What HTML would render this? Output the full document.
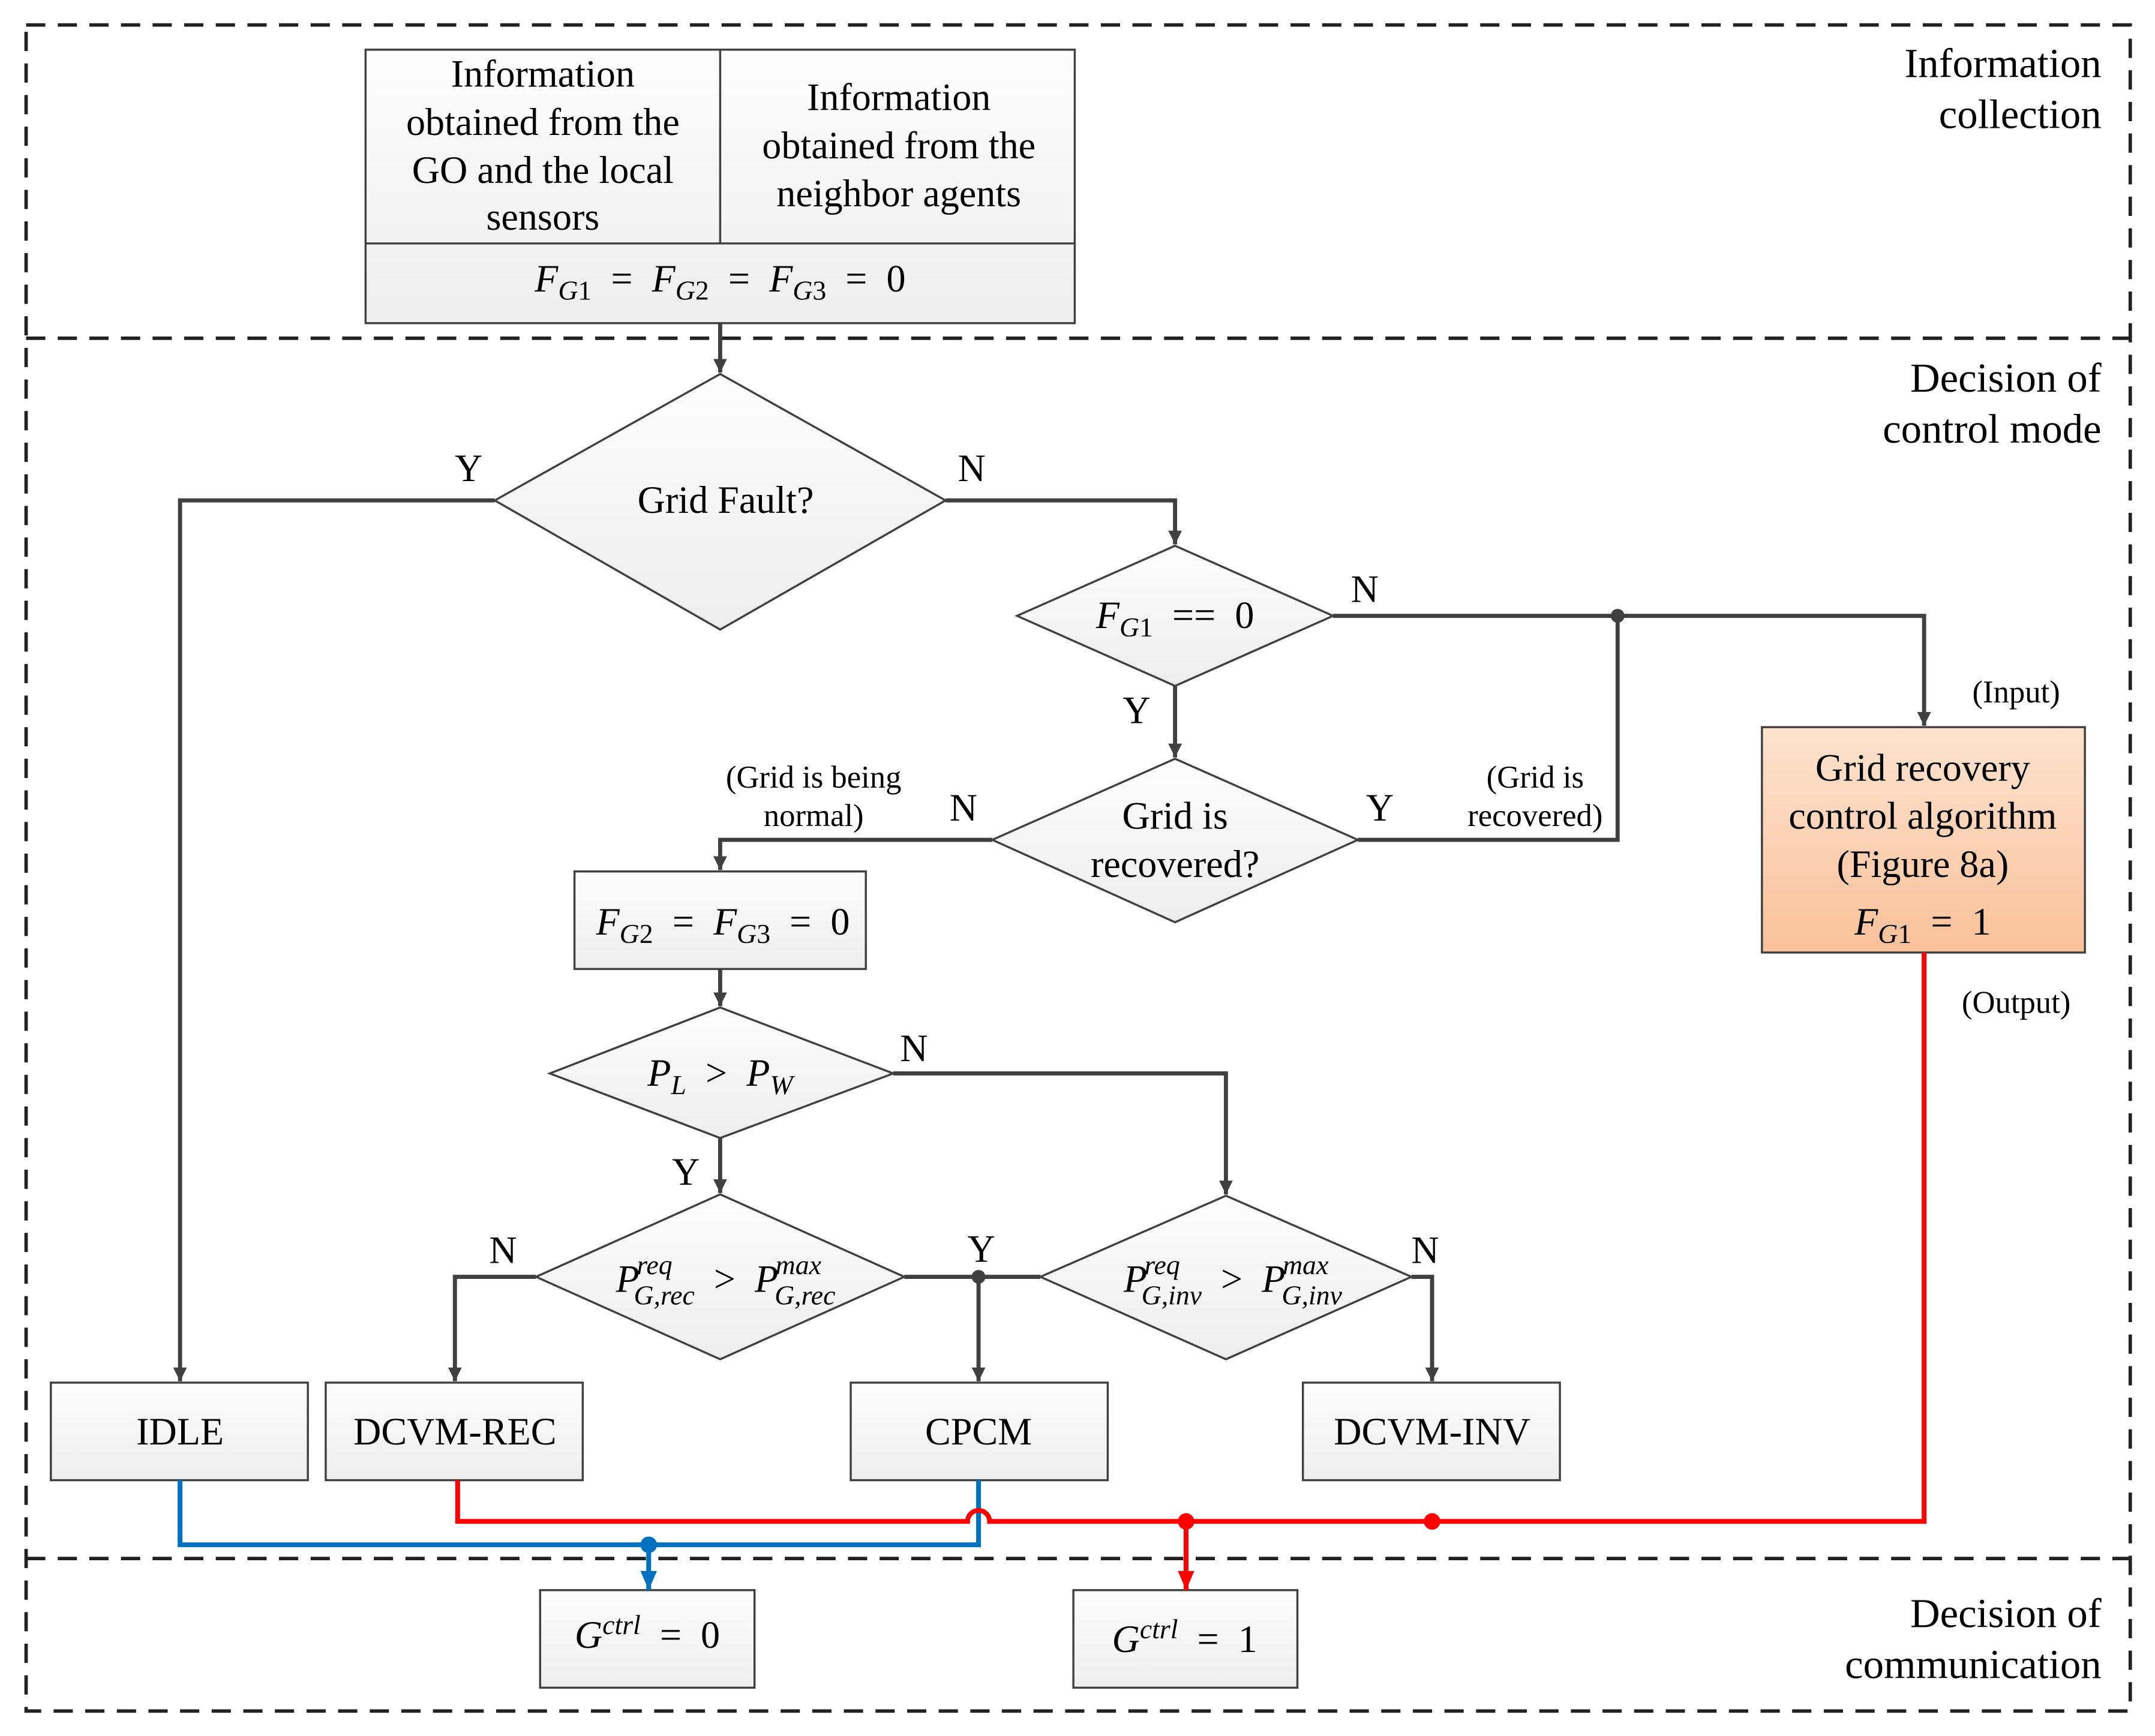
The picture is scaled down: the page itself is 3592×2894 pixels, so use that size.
<!DOCTYPE html>
<html><head><style>html,body{margin:0;padding:0;background:#fff}svg{display:block}
text{font-family:"Liberation Serif",serif;fill:#000}
.m{font-style:italic}
</style></head><body>
<svg width="3592" height="2894" viewBox="0 0 1568 1263" xmlns="http://www.w3.org/2000/svg">
<defs>
<linearGradient id="g" x1="0" y1="0" x2="0" y2="1"><stop offset="0" stop-color="#fdfdfd"/><stop offset="1" stop-color="#eeeeee"/></linearGradient>
<linearGradient id="o" x1="0" y1="0" x2="0" y2="1"><stop offset="0" stop-color="#fde3d0"/><stop offset="1" stop-color="#f9c19a"/></linearGradient>
<marker id="a" markerWidth="10" markerHeight="10" refX="10" refY="5" orient="auto" markerUnits="userSpaceOnUse" viewBox="0 0 10 10"><path d="M0,0 L10,5 L0,10z" fill="#404040"/></marker>
<marker id="ar" markerWidth="14" markerHeight="12" refX="14" refY="6" orient="auto" markerUnits="userSpaceOnUse" viewBox="0 0 14 12"><path d="M0,0 L14,6 L0,12z" fill="#f00"/></marker>
<marker id="ab" markerWidth="14" markerHeight="12" refX="14" refY="6" orient="auto" markerUnits="userSpaceOnUse" viewBox="0 0 14 12"><path d="M0,0 L14,6 L0,12z" fill="#0070c0"/></marker>
</defs>
<g fill="none" stroke="#222" stroke-width="2.5" stroke-dasharray="14,9">
<rect x="19" y="18" width="1531" height="1227"/>
<line x1="19" y1="246" x2="1550" y2="246"/>
<line x1="19" y1="1134" x2="1550" y2="1134"/>
</g>
<g font-size="30" text-anchor="end">
<text x="1529" y="56">Information</text><text x="1529" y="93">collection</text>
<text x="1529" y="285">Decision of</text><text x="1529" y="322">control mode</text>
<text x="1529" y="1184">Decision of</text><text x="1529" y="1221">communication</text>
</g>
<g stroke="#404040" stroke-width="1.5" fill="url(#g)">
<rect x="266" y="36" width="516" height="199"/>
<line x1="524" y1="36" x2="524" y2="177"/><line x1="266" y1="177" x2="782" y2="177"/>
<polygon points="524,272 688,364 524,458 360,364"/>
<polygon points="855,397 970,448 855,499 740,448"/>
<polygon points="855,552 988,611 855,671 722,611"/>
<rect x="418" y="634" width="212" height="71"/>
<polygon points="524,733 650,781 524,828 400,781"/>
<polygon points="524,869 658,929 524,989 390,929"/>
<polygon points="892,870 1027,929 892,989 757,929"/>
<rect x="37" y="1006" width="187" height="71"/>
<rect x="237" y="1006" width="187" height="71"/>
<rect x="619" y="1006" width="187" height="71"/>
<rect x="948" y="1006" width="187" height="71"/>
<rect x="393" y="1157" width="156" height="71"/>
<rect x="781" y="1157" width="163" height="71"/>
<rect x="1282" y="529" width="235" height="164" fill="url(#o)"/>
</g>
<g stroke="#404040" stroke-width="3" fill="none">
<path d="M524,235 V271" marker-end="url(#a)"/>
<path d="M360,364 H131 V1005" marker-end="url(#a)"/>
<path d="M688,364 H855 V396" marker-end="url(#a)"/>
<path d="M970,448 H1400 V528" marker-end="url(#a)"/>
<path d="M855,499 V551" marker-end="url(#a)"/>
<path d="M988,611 H1177 V448"/>
<path d="M722,611 H524 V633" marker-end="url(#a)"/>
<path d="M524,705 V732" marker-end="url(#a)"/>
<path d="M650,781 H892 V869" marker-end="url(#a)"/>
<path d="M524,828 V868" marker-end="url(#a)"/>
<path d="M390,929 H331 V1005" marker-end="url(#a)"/>
<path d="M658,929 H757"/>
<path d="M712,929 V1005" marker-end="url(#a)"/>
<path d="M1027,929 H1042 V1005" marker-end="url(#a)"/>
</g>
<circle cx="1177" cy="448" r="5" fill="#404040"/>
<circle cx="712" cy="929" r="5" fill="#404040"/>
<g stroke="#0070c0" stroke-width="3.5" fill="none">
<path d="M131,1077 V1124 H712 V1077"/>
<path d="M472,1124 V1157" marker-end="url(#ab)"/>
</g>
<circle cx="472" cy="1124" r="6" fill="#0070c0"/>
<g stroke="#f00" stroke-width="3.5" fill="none">
<path d="M1400,693 V1107 H720 A8,8 0 0 0 704,1107 H333 V1077"/>
<path d="M863,1107 V1157" marker-end="url(#ar)"/>
</g>
<circle cx="863" cy="1107" r="6" fill="#f00"/><circle cx="1042" cy="1107" r="6" fill="#f00"/>
<g font-size="28" text-anchor="middle">
<text x="395" y="63">Information</text><text x="395" y="98">obtained from the</text><text x="395" y="133">GO and the local</text><text x="395" y="167">sensors</text>
<text x="654" y="80">Information</text><text x="654" y="115">obtained from the</text><text x="654" y="150">neighbor agents</text>
<text x="524" y="212" xml:space="preserve"><tspan class="m">F</tspan><tspan class="m" font-size="20" dy="6">G</tspan><tspan font-size="20">1</tspan><tspan dy="-6">  =  </tspan><tspan class="m">F</tspan><tspan class="m" font-size="20" dy="6">G</tspan><tspan font-size="20">2</tspan><tspan dy="-6">  =  </tspan><tspan class="m">F</tspan><tspan class="m" font-size="20" dy="6">G</tspan><tspan font-size="20">3</tspan><tspan dy="-6">  =  0</tspan></text>
<text x="528" y="373">Grid Fault?</text>
<text x="855" y="457" xml:space="preserve"><tspan class="m">F</tspan><tspan class="m" font-size="20" dy="6">G</tspan><tspan font-size="20">1</tspan><tspan dy="-6">  ==  0</tspan></text>
<text x="855" y="603">Grid is</text><text x="855" y="638">recovered?</text>
<text x="526" y="680" xml:space="preserve"><tspan class="m">F</tspan><tspan class="m" font-size="20" dy="6">G</tspan><tspan font-size="20">2</tspan><tspan dy="-6">  =  </tspan><tspan class="m">F</tspan><tspan class="m" font-size="20" dy="6">G</tspan><tspan font-size="20">3</tspan><tspan dy="-6">  =  0</tspan></text>
<text x="524" y="790" xml:space="preserve"><tspan class="m">P</tspan><tspan class="m" font-size="20" dy="6">L</tspan><tspan dy="-6">  &gt;  </tspan><tspan class="m">P</tspan><tspan class="m" font-size="20" dy="6">W</tspan></text>
<text x="528" y="940" xml:space="preserve"><tspan class="m">P</tspan><tspan class="m" font-size="20" dx="-2" dy="-13">req</tspan><tspan class="m" font-size="20" dx="-28" dy="22">G,rec</tspan><tspan dy="-9">  &gt;  </tspan><tspan class="m">P</tspan><tspan class="m" font-size="20" dx="-2" dy="-13">max</tspan><tspan class="m" font-size="20" dx="-34" dy="22">G,rec</tspan></text>
<text x="897" y="940" xml:space="preserve"><tspan class="m">P</tspan><tspan class="m" font-size="20" dx="-2" dy="-13">req</tspan><tspan class="m" font-size="20" dx="-28" dy="22">G,inv</tspan><tspan dy="-9">  &gt;  </tspan><tspan class="m">P</tspan><tspan class="m" font-size="20" dx="-2" dy="-13">max</tspan><tspan class="m" font-size="20" dx="-34" dy="22">G,inv</tspan></text>
<text x="131" y="1051">IDLE</text>
<text x="331" y="1051">DCVM-REC</text>
<text x="712" y="1051">CPCM</text>
<text x="1042" y="1051">DCVM-INV</text>
<text x="471" y="1199" xml:space="preserve"><tspan class="m">G</tspan><tspan class="m" font-size="20" dy="-10">ctrl</tspan><tspan dy="10">  =  0</tspan></text>
<text x="862" y="1202" xml:space="preserve"><tspan class="m">G</tspan><tspan class="m" font-size="20" dy="-10">ctrl</tspan><tspan dy="10">  =  1</tspan></text>
<text x="1399" y="568">Grid recovery</text><text x="1399" y="603">control algorithm</text><text x="1399" y="638">(Figure 8a)</text>
<text x="1399" y="680" xml:space="preserve"><tspan class="m">F</tspan><tspan class="m" font-size="20" dy="6">G</tspan><tspan font-size="20">1</tspan><tspan dy="-6">  =  1</tspan></text>
<text x="341" y="350">Y</text><text x="707" y="350">N</text>
<text x="993" y="438">N</text><text x="827" y="526">Y</text>
<text x="701" y="597">N</text><text x="1004" y="597">Y</text>
<text x="665" y="772">N</text><text x="499" y="862">Y</text>
<text x="366" y="919">N</text><text x="714" y="918">Y</text><text x="1037" y="919">N</text>
</g>
<g font-size="23" text-anchor="middle">
<text x="592" y="573">(Grid is being</text><text x="592" y="601">normal)</text>
<text x="1117" y="573">(Grid is</text><text x="1117" y="601">recovered)</text>
<text x="1467" y="511">(Input)</text>
<text x="1467" y="737">(Output)</text>
</g>
</svg>
</body></html>
